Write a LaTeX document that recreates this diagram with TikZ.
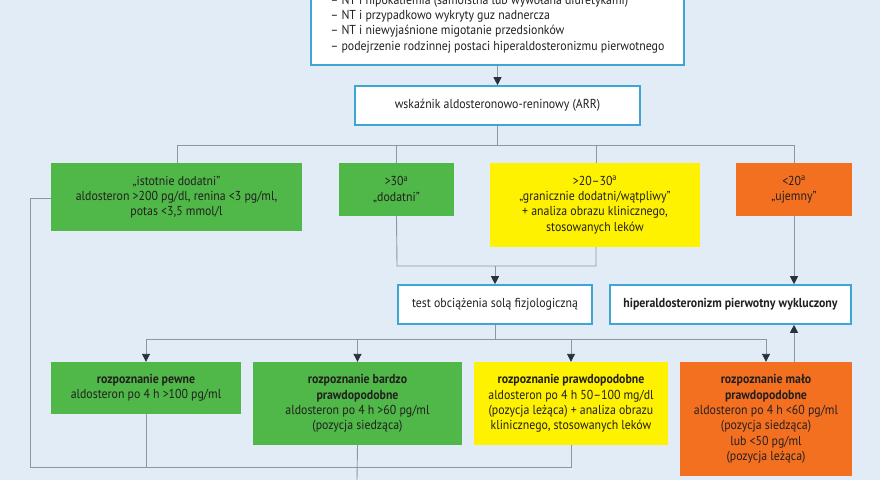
\documentclass[tikz,border=0pt]{standalone}
\usepackage{fontspec}
\setmainfont{PT Sans}[FakeStretch=0.91]
\usetikzlibrary{arrows.meta}
\definecolor{bg}{HTML}{E2ECF7}
\definecolor{bord}{HTML}{3DA6D2}
\definecolor{grn}{HTML}{4FB848}
\definecolor{yel}{HTML}{FFF200}
\definecolor{org}{HTML}{F37021}
\definecolor{txt}{HTML}{231F20}
\definecolor{linec}{HTML}{8C97A6}
\definecolor{tipc}{HTML}{2B303A}
\begin{document}
\begin{tikzpicture}[x=1pt,y=-1pt,
  every node/.style={font=\fontsize{13}{15.3}\selectfont, text=txt, align=center, inner sep=0pt},
  wbox/.style={draw=bord, line width=1.6pt, fill=white},
  gbox/.style={fill=grn},
  ybox/.style={fill=yel},
  obox/.style={fill=org},
  conn/.style={draw=linec, line width=0.9pt},
  arr/.style={conn, -{Triangle[width=8pt,length=8pt,color=tipc]}}]
\useasboundingbox (0,0) rectangle (880,480);
\fill[bg] (0,0) rectangle (880,480);

% top box
\node[wbox, minimum width=373pt, minimum height=82pt, align=left] (top) at (497.5,24)
 {– NT i hipokaliemia (samoistna lub wywołana diuretykami)\\
  – NT i przypadkowo wykryty guz nadnercza\\
  – NT i niewyjaśnione migotanie przedsionków\\
  – podejrzenie rodzinnej postaci hiperaldosteronizmu pierwotnego};

\node[wbox, minimum width=285pt, minimum height=39pt] (arr) at (497.5,105.5)
 {wskaźnik aldosteronowo-reninowy (ARR)};

% second row
\node[gbox, minimum width=251pt, minimum height=68pt] (g1) at (176.5,197)
 {„istotnie dodatni”\\aldosteron >200 pg/dl, renina <3 pg/ml,\\potas <3,5 mmol/l};
\node[gbox, minimum width=115pt, minimum height=53pt] (g2) at (396.5,189.5)
 {>30\textsuperscript{a}\\„dodatni”};
\node[ybox, minimum width=210pt, minimum height=84pt] (y1) at (595,205)
 {>20–30\textsuperscript{a}\\„granicznie dodatni/wątpliwy”\\+ analiza obrazu klinicznego,\\stosowanych leków};
\node[obox, minimum width=116pt, minimum height=53pt] (o1) at (794,189.5)
 {<20\textsuperscript{a}\\„ujemny”};

% third row
\node[wbox, minimum width=194pt, minimum height=39pt] (test) at (495,304.5)
 {test obciążenia solą fizjologiczną};
\node[wbox, minimum width=241pt, minimum height=39pt] (hyp) at (730.5,304.5)
 {\bfseries hiperaldosteronizm pierwotny wykluczony};

% fourth row
\node[gbox, minimum width=190pt, minimum height=52pt] (b1) at (146,388)
 {\bfseries rozpoznanie pewne\\aldosteron po 4 h >100 pg/ml};
\node[gbox, minimum width=209pt, minimum height=83pt] (b2) at (357.5,403.5)
 {\bfseries rozpoznanie bardzo\\\bfseries prawdopodobne\\aldosteron po 4 h >60 pg/ml\\(pozycja siedząca)};
\node[ybox, minimum width=194pt, minimum height=83pt] (b3) at (571,403.5)
 {\bfseries rozpoznanie prawdopodobne\\aldosteron po 4 h 50–100 mg/dl\\(pozycja leżąca) + analiza obrazu\\klinicznego, stosowanych leków};
\node[obox, minimum width=172pt, minimum height=114pt] (b4) at (766,419)
 {\bfseries rozpoznanie mało\\\bfseries prawdopodobne\\aldosteron po 4 h <60 pg/ml\\(pozycja siedząca)\\lub <50 pg/ml\\(pozycja leżąca)};

% helper coordinates
\coordinate (h1) at (177,145);
\coordinate (h2) at (794,145);
\coordinate (m1) at (397,266);
\coordinate (m2) at (596,266);
\coordinate (k1) at (146,339);
\coordinate (k2) at (766,339);
\coordinate (l1) at (30,198);
\coordinate (l2) at (30,467);
\coordinate (l3) at (571,467);
\coordinate (bend) at (357,480);

% connectors
\draw[arr] (top.south) -- (arr.north);
\draw[conn] (arr.south) -- (arr.south |- h1);
\draw[conn] (h1) -- (h2);
\draw[conn] (h1) -- (h1 |- g1.north);
\draw[conn] (h1 -| g2.north) -- (g2.north);
\draw[conn] (m2 |- h1) -- (m2 |- y1.north);
\draw[conn] (h2) -- (h2 |- o1.north);

\draw[conn] (g2.south) -- (m1) -- (m2) -- (m2 |- y1.south);
\draw[arr] (test.north |- m1) -- (test.north);
\draw[arr] (o1.south) -- (o1.south |- hyp.north);

\draw[conn] (test.south) -- (test.south |- k1);
\draw[conn] (k1) -- (k2);
\draw[arr] (k1) -- (b1.north);
\draw[arr] (k1 -| b2.north) -- (b2.north);
\draw[arr] (k1 -| b3.north) -- (b3.north);
\draw[arr] (k2) -- (b4.north);
\draw[arr] (b4.north -| o1.south) -- (o1.south |- hyp.south);

\draw[conn] (g1.west |- l1) -- (l1) -- (l2) -- (l3) -- (b3.south);
\draw[conn] (b1.south) -- (b1.south |- l2);
\draw[conn] (b2.south) -- (bend);
\end{tikzpicture}
\end{document}
